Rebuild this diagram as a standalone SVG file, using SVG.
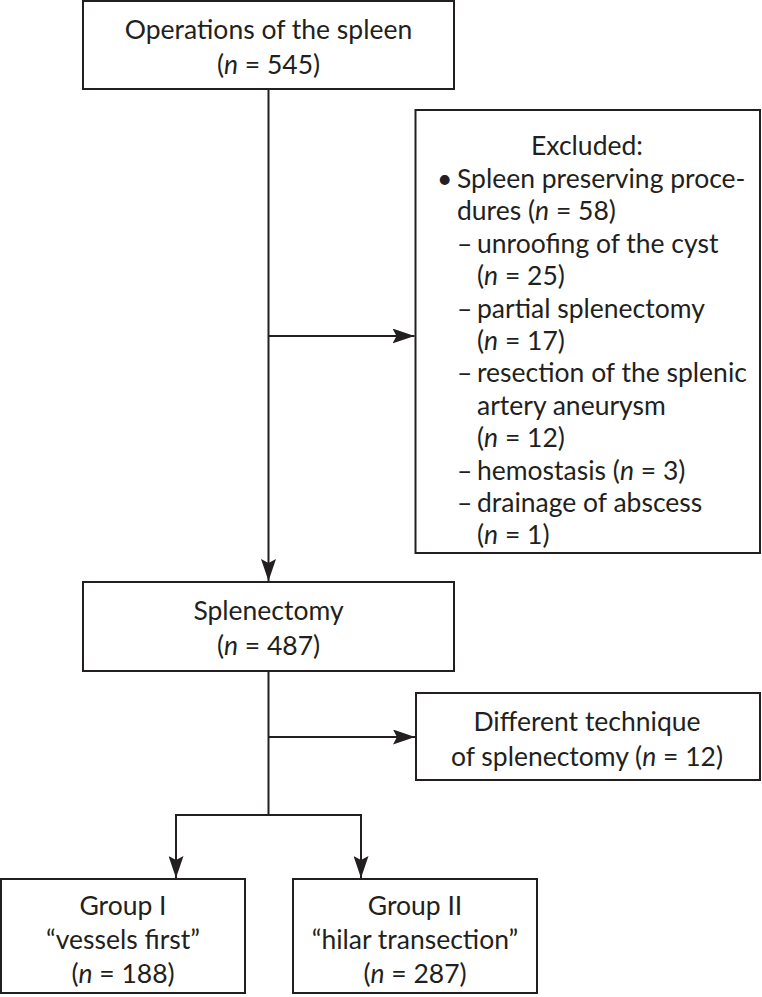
<svg xmlns="http://www.w3.org/2000/svg" width="762" height="997" viewBox="0 0 762 997">
<style>
.box{fill:#fff;stroke:#231f20;stroke-width:2}
.ln{fill:none;stroke:#231f20;stroke-width:2}
text{font-family:Lato,"Open Sans","Liberation Sans",sans-serif;font-size:26.5px;fill:#231f20}
.c{text-anchor:middle}
.i{font-style:italic}
</style>
<defs>
<marker id="ah" markerWidth="22" markerHeight="15" refX="22" refY="7.5" orient="auto" markerUnits="userSpaceOnUse">
<path d="M0,0 L22,7.5 L0,15 L4,7.5 z" fill="#231f20"/>
</marker>
</defs>
<g id="connectors">
<line class="ln" x1="268.5" y1="89" x2="268.5" y2="581" marker-end="url(#ah)"/>
<line class="ln" x1="268.5" y1="336" x2="414.5" y2="336" marker-end="url(#ah)"/>
<line class="ln" x1="268.5" y1="671" x2="268.5" y2="815"/>
<line class="ln" x1="268.5" y1="737" x2="415" y2="737" marker-end="url(#ah)"/>
<polyline class="ln" points="176,815 361,815"/>
<line class="ln" x1="176" y1="814" x2="176" y2="878" marker-end="url(#ah)"/>
<line class="ln" x1="361" y1="814" x2="361" y2="878" marker-end="url(#ah)"/>
</g>
<g id="n_operations">
<rect class="box" x="83" y="1" width="371" height="88"/>
<text class="c" x="268.5" y="39">Operations of the spleen</text>
<text class="c" x="268.5" y="74">(<tspan class="i">n</tspan> = 545)</text>
</g>
<g id="n_excluded">
<rect class="box" x="415.5" y="110" width="344.5" height="443"/>
<text class="c" x="587" y="155">Excluded:</text>
<text x="437" y="188">•</text>
<text x="457" y="188">Spleen preserving proce-</text>
<text x="457" y="220">dures (<tspan class="i">n</tspan> = 58)</text>
<text x="457" y="253">–</text><text x="477" y="253">unroofing of the cyst</text>
<text x="477" y="285">(<tspan class="i">n</tspan> = 25)</text>
<text x="457" y="318">–</text><text x="477" y="318">partial splenectomy</text>
<text x="477" y="350">(<tspan class="i">n</tspan> = 17)</text>
<text x="457" y="382">–</text><text x="477" y="382">resection of the splenic</text>
<text x="477" y="415">artery aneurysm</text>
<text x="477" y="447">(<tspan class="i">n</tspan> = 12)</text>
<text x="457" y="480">–</text><text x="477" y="480">hemostasis (<tspan class="i">n</tspan> = 3)</text>
<text x="457" y="512">–</text><text x="477" y="512">drainage of abscess</text>
<text x="477" y="544">(<tspan class="i">n</tspan> = 1)</text>
</g>
<g id="n_splenectomy">
<rect class="box" x="83" y="582" width="371" height="89"/>
<text class="c" x="268.5" y="620">Splenectomy</text>
<text class="c" x="268.5" y="655">(<tspan class="i">n</tspan> = 487)</text>
</g>
<g id="n_different">
<rect class="box" x="416" y="693" width="344" height="87"/>
<text class="c" x="587" y="731">Different technique</text>
<text class="c" x="587" y="766">of splenectomy (<tspan class="i">n</tspan> = 12)</text>
</g>
<g id="n_group1">
<rect class="box" x="1" y="879" width="244" height="114"/>
<text class="c" x="123" y="915">Group I</text>
<text class="c" x="123" y="949">“vessels first”</text>
<text class="c" x="123" y="983">(<tspan class="i">n</tspan> = 188)</text>
</g>
<g id="n_group2">
<rect class="box" x="293" y="879" width="244" height="114"/>
<text class="c" x="415" y="915">Group II</text>
<text class="c" x="415" y="949">“hilar transection”</text>
<text class="c" x="415" y="983">(<tspan class="i">n</tspan> = 287)</text>
</g>
</svg>
